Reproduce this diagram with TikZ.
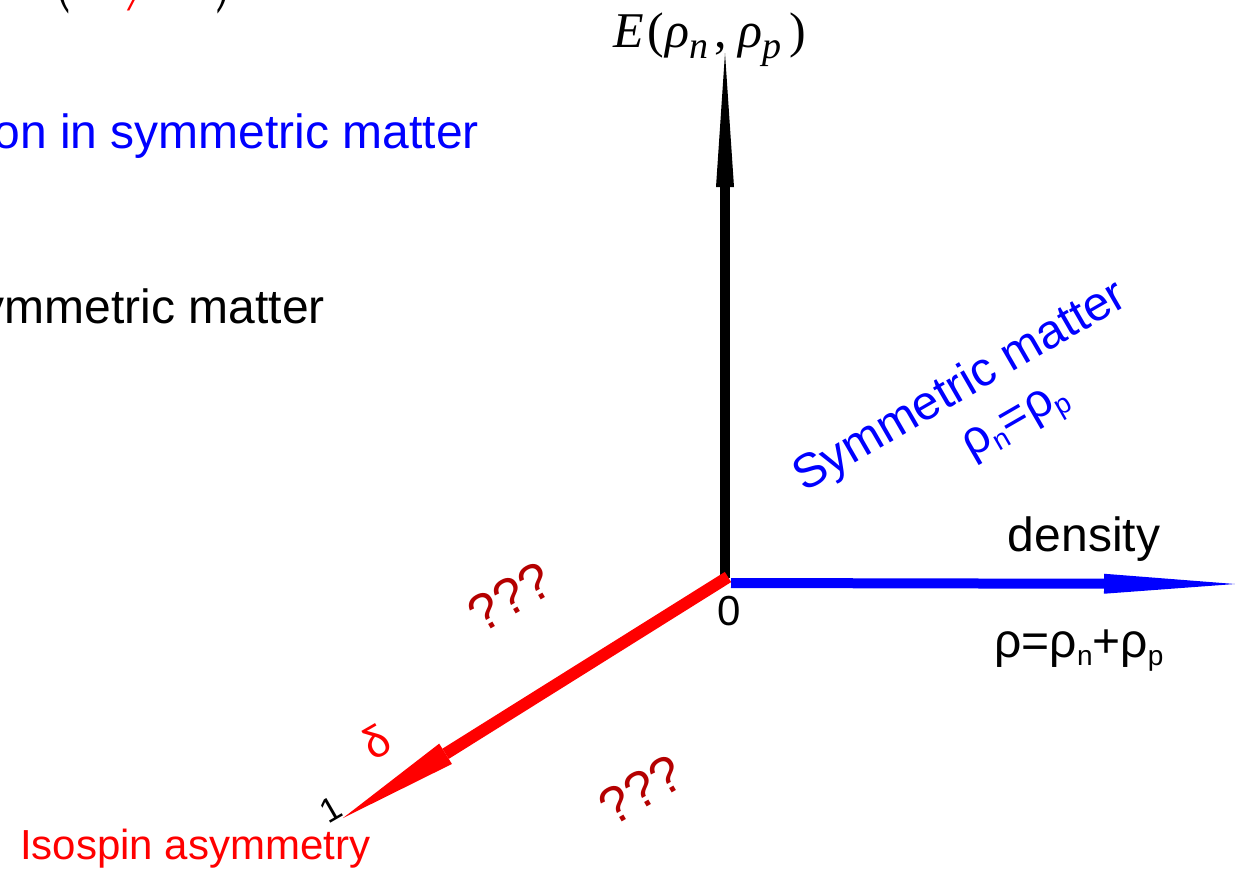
\documentclass[tikz,border=0pt]{standalone}
\usepackage{fontspec}
\setmainfont{Liberation Sans}
\newfontfamily\serifE{Liberation Serif}
\usetikzlibrary{arrows.meta}
\definecolor{qred}{RGB}{180,0,0}
\definecolor{pblue}{RGB}{0,0,255}
\definecolor{pred}{RGB}{255,0,0}
\newcommand\setfs[1]{\fontsize{#1}{#1}\selectfont}
\newcommand\subx[1]{\raisebox{-8pt}{\setfs{28}#1}}
\newcommand\subE[1]{\raisebox{-11pt}{\setfs{38}#1}}
\newcommand\tallparen[1]{\scalebox{1}[2.2]{\setfs{44}#1}}
\tikzset{
  lbl/.style={inner sep=0pt, font=\setfs{48}},
  qq/.style={inner sep=0pt, text=qred, font=\setfs{52}, rotate=30},
  axisline/.style={line width=10pt},
}
\begin{document}
\begin{tikzpicture}[x=1pt,y=-1pt]
\clip (0,0) rectangle (1235,873);
% partial formula at the top left
\node[anchor=base west, inner sep=0pt, font=\serifE] (lp) at (55,-7) {\tallparen{(}};
\node[anchor=base west, inner sep=0pt, text=pred, font=\serifE\itshape\setfs{48}] (sl) at (129,10) {/};
\node[anchor=base west, inner sep=0pt, font=\serifE] (rp) at (216,-7) {\tallparen{)}};
\node[lbl, anchor=base east, text=pblue] (t1) at (479,148) {on in symmetric matter};
\node[lbl, anchor=base east] (t2) at (325,323) {ymmetric matter};
% axes
\coordinate (O) at (725,578);
\coordinate (Etip) at (725,53);
\coordinate (Bstart) at (731,583);
\coordinate (Dtip) at (1235,584);
\coordinate (Rstart) at (728,577);
\coordinate (Itip) at (343,818);
\draw[axisline, -{Triangle[length=134pt,width=18pt,line width=0pt]}] (O) -- (Etip);
\draw[axisline, pblue, -{Triangle[length=131pt,width=20pt,line width=0pt]}] (Bstart) -- (Dtip);
\draw[line width=12pt, pred, -{Triangle[length=121pt,width=24pt,line width=0pt]}] (Rstart) -- (Itip);
% labels
\node[inner sep=0pt, anchor=base west, font=\serifE\setfs{50}] (E) at (613,47)
  {\textit{E}\hspace{4pt}(\hspace{1pt}\textit{ρ}\subE{\textit{n}}\hspace{6pt},\hspace{12pt}\textit{ρ}\subE{\textit{p}}\hspace{8pt})};
\node[lbl, anchor=base] (dens) at (1084,551) {density};
\node[lbl, anchor=base] (rho) at (1079,657) {ρ=ρ\subx{n}+ρ\subx{p}};
\node[inner sep=0pt, font=\setfs{42}] (zero) at (729,611) {0};
\node[lbl, anchor=base, text=pblue, rotate=30] (sym) at (967,398) {Symmetric matter};
\node[lbl, anchor=base, text=pblue, rotate=30] (rnp) at (1021,430) {ρ\subx{n}=ρ\subx{p}};
\node[inner sep=0pt, anchor=base west, text=pred, font=\setfs{42}] (iso) at (20,859) {Isospin asymmetry};
\node[qq] (q1) at (510,597) {???};
\node[qq] (q2) at (641,790) {???};
\node[inner sep=0pt, text=pred, font=\setfs{44}, rotate=30] (delta) at (376,742) {δ};
\node[inner sep=0pt, font=\setfs{34}, rotate=30] (one) at (331,810) {1};
\end{tikzpicture}
\end{document}
